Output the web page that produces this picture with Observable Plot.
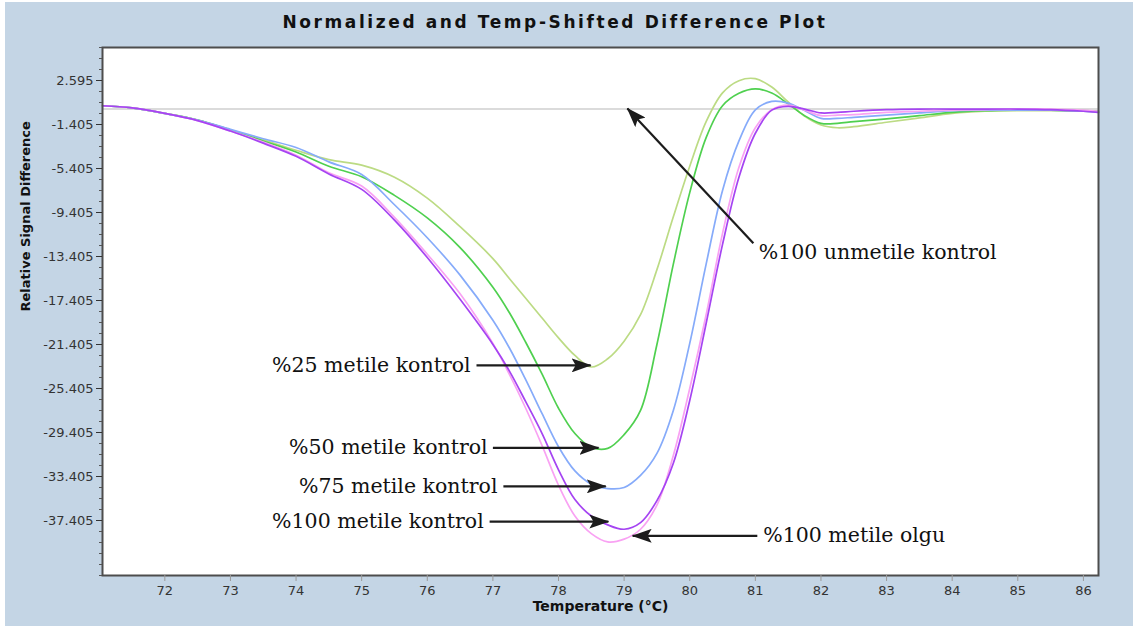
<!DOCTYPE html>
<html>
<head>
<meta charset="utf-8">
<script src="https://cdn.jsdelivr.net/npm/d3@7"></script>
<script src="https://cdn.jsdelivr.net/npm/@observablehq/plot@0.6"></script>
<style>
html, body { margin: 0; padding: 0; background: #fff; }
#wrap { position: absolute; left: 5px; top: 2px; width: 1128px; height: 624px; background: #C4D5E5; overflow: hidden; }
#title { position: absolute; top: 10px; left: 0; width: 1100px; text-align: center; font: bold 17px "DejaVu Sans"; letter-spacing: 2.6px; color: #111; }
#chart { position: absolute; left: 0; top: 33px; }
</style>
</head>
<body>
<div id="wrap">
  <div id="title">Normalized and Temp-Shifted Difference Plot</div>
  <div id="chart"></div>
</div>
<script>
// Temperature grid (°C)
const temps = [71.05, 71.5, 72, 72.5, 73, 73.5, 74, 74.5, 75, 75.5,
  76, 76.5, 77, 77.25, 77.5, 77.75, 78, 78.25, 78.5, 78.75,
  79, 79.25, 79.5, 79.75, 80, 80.25, 80.5, 80.75, 81, 81.25,
  81.5, 81.75, 82, 82.25, 82.5, 83, 83.5, 84, 84.5, 85,
  85.5, 86, 86.23];

// Relative signal difference per sample
const met25 = [0.3, 0.1, -0.4, -1.0, -1.9, -2.8, -3.75, -4.6, -5.1, -6.2,
  -8.1, -10.7, -13.6, -15.4, -17.2, -19.0, -20.8, -22.4, -23.45, -22.7,
  -21.1, -18.7, -14.6, -9.8, -5.2, -1.15, 1.47, 2.58, 2.76, 2.0,
  0.64, -0.64, -1.45, -1.7, -1.6, -1.2, -0.8, -0.4, -0.2, -0.15,
  -0.15, -0.2, -0.25];
const met50 = [0.3, 0.1, -0.4, -1.0, -1.9, -2.9, -3.9, -5.2, -6.15, -7.85,
  -9.9, -12.6, -16.2, -18.5, -21.2, -24.1, -27.2, -29.5, -30.75, -30.85,
  -29.6, -27.4, -21.4, -14.1, -7.6, -2.6, 0.3, 1.43, 1.83, 1.45,
  0.47, -0.6, -1.3, -1.3, -1.15, -0.9, -0.6, -0.3, -0.15, -0.1,
  -0.1, -0.15, -0.2];
const met75 = [0.3, 0.1, -0.4, -1.0, -1.85, -2.7, -3.5, -4.8, -5.95, -8.7,
  -11.7, -15.1, -19.2, -21.7, -24.6, -27.7, -30.7, -32.9, -34.1, -34.5,
  -34.4, -33.3, -31.3, -27.4, -21.3, -14.1, -7.4, -2.9, -0.07, 0.69,
  0.54, -0.14, -0.85, -0.85, -0.75, -0.55, -0.35, -0.15, -0.1, -0.1,
  -0.1, -0.2, -0.3];
const met100 = [0.3, 0.1, -0.4, -1.05, -2.0, -3.1, -4.3, -5.9, -7.3, -10.1,
  -13.5, -17.3, -21.4, -23.8, -26.6, -29.5, -32.8, -35.5, -37.0, -37.8,
  -38.2, -37.6, -35.6, -32.2, -26.5, -19.5, -12.3, -6.2, -2.2, -0.1,
  0.25, 0.0, -0.35, -0.3, -0.2, -0.05, 0.0, 0.0, 0.0, 0.0,
  -0.05, -0.2, -0.3];
const olgu100 = [0.3, 0.1, -0.4, -1.05, -2.0, -3.0, -4.2, -5.8, -7.0, -9.85,
  -13.2, -16.8, -21.3, -24.1, -27.2, -30.6, -34.2, -37.0, -38.6, -39.35,
  -39.1, -38.2, -36.0, -31.5, -25.4, -18.7, -11.3, -5.3, -1.7, -0.07,
  0.35, -0.1, -0.6, -0.55, -0.5, -0.3, -0.2, -0.1, -0.05, 0.0,
  0.0, -0.1, -0.2];

const seriesNames = ["%25 metile kontrol", "%50 metile kontrol", "%75 metile kontrol", "%100 metile olgu", "%100 metile kontrol"];
const seriesValues = [met25, met50, met75, olgu100, met100];
const seriesColors = ["#BCDB84", "#4FD04F", "#86ABFA", "#F9A2F3", "#A544F2"];

// Axes
const xTicks = [72, 73, 74, 75, 76, 77, 78, 79, 80, 81, 82, 83, 84, 85, 86];
const yTicks = [2.595, -1.405, -5.405, -9.405, -13.405, -17.405, -21.405, -25.405, -29.405, -33.405, -37.405];
const xDomain = [71.05, 86.23];
const yDomain = [-42.405, 5.595];

// Annotations
const annLabels = ["%100 unmetile kontrol", "%25 metile kontrol", "%50 metile kontrol", "%75 metile kontrol", "%100 metile kontrol", "%100 metile olgu"];
const annSide = ["right", "left", "left", "left", "left", "right"];
const annTextX = [81.05, 76.66, 76.92, 77.07, 76.86, 81.12];
const annTextY = [-13.0, -23.3, -30.8, -34.3, -37.5, -38.8];
const annFromX = [80.97, 76.75, 77.0, 77.16, 76.95, 81.03];
const annFromY = [-12.2, -23.3, -30.8, -34.3, -37.5, -38.8];
const annToX = [79.05, 78.49, 78.61, 78.72, 78.76, 79.13];
const annToY = [0.05, -23.3, -30.8, -34.3, -37.5, -38.8];

const ann = annLabels.map((label, i) => ({
  label, side: annSide[i], tx: annTextX[i], ty: annTextY[i],
  x1: annFromX[i], y1: annFromY[i], x2: annToX[i], y2: annToY[i]
}));

const minorTicks = d3.range(0, 49).map(i => yDomain[0] + i);

const lineMarks = seriesValues.map((vals, k) =>
  Plot.line(temps, {
    x: d => d,
    y: (d, i) => vals[i],
    stroke: seriesColors[k],
    strokeWidth: 1.7,
    curve: "catmull-rom"
  })
);

const plot = Plot.plot({
  width: 1128,
  height: 591,
  marginLeft: 97,
  marginRight: 35,
  marginTop: 12,
  marginBottom: 51,
  style: { background: "transparent", fontFamily: "DejaVu Sans", fontSize: "13px", color: "#333", overflow: "visible" },
  x: { domain: xDomain },
  y: { domain: yDomain },
  marks: [
    Plot.frame({ fill: "white", stroke: null }),
    Plot.ruleY([0], { stroke: "#cfcfcf", strokeWidth: 1.5 }),
    ...lineMarks,
    Plot.link(ann, { x1: "x1", y1: "y1", x2: "x2", y2: "y2", stroke: "#1c1c1c", strokeWidth: 2.2 }),
    Plot.text(ann.filter(d => d.side === "left"), { x: "tx", y: "ty", text: "label", textAnchor: "end", fontFamily: "DejaVu Serif", fontSize: 20.5, fill: "#111" }),
    Plot.text(ann.filter(d => d.side === "right"), { x: "tx", y: "ty", text: "label", textAnchor: "start", fontFamily: "DejaVu Serif", fontSize: 20.5, fill: "#111" }),
    Plot.frame({ stroke: "#4d4d4d", strokeWidth: 2 }),
    Plot.axisX({ ticks: xTicks, tickSize: 6, tickFormat: () => "", color: "#9a9a9a", label: null }),
    Plot.axisX({ ticks: xTicks, tickSize: 0, tickPadding: 10, tickFormat: d => String(d), color: "#333", label: null }),
    Plot.axisY({ ticks: minorTicks, tickSize: 3, tickFormat: () => "", color: "#555", label: null }),
    Plot.axisY({ ticks: yTicks, tickSize: 6, tickPadding: 3, tickFormat: d => d.toFixed(3), color: "#333", label: null }),
    Plot.text(["Relative Signal Difference"], { frameAnchor: "left", rotate: -90, dx: -77, fontFamily: "DejaVu Sans", fontWeight: "bold", fontSize: 13, fill: "#111" }),
    Plot.text(["Temperature (°C)"], { frameAnchor: "bottom", dy: 35, fontFamily: "DejaVu Sans", fontWeight: "bold", fontSize: 14, fill: "#111" })
  ]
});

// Filled arrowheads for annotation arrows
const ns = "http://www.w3.org/2000/svg";
const defs = document.createElementNS(ns, "defs");
const marker = document.createElementNS(ns, "marker");
marker.setAttribute("id", "ahead");
marker.setAttribute("viewBox", "0 0 20 14");
marker.setAttribute("refX", "19");
marker.setAttribute("refY", "7");
marker.setAttribute("markerWidth", "20");
marker.setAttribute("markerHeight", "14");
marker.setAttribute("markerUnits", "userSpaceOnUse");
marker.setAttribute("orient", "auto");
const mp = document.createElementNS(ns, "path");
mp.setAttribute("d", "M0,0L20,7L0,14L4,7Z");
mp.setAttribute("fill", "#1c1c1c");
marker.appendChild(mp);
defs.appendChild(marker);
plot.insertBefore(defs, plot.firstChild);
plot.querySelectorAll('g[aria-label="link"] path').forEach(p => p.setAttribute("marker-end", "url(#ahead)"));

document.getElementById("chart").appendChild(plot);
</script>
</body>
</html>
